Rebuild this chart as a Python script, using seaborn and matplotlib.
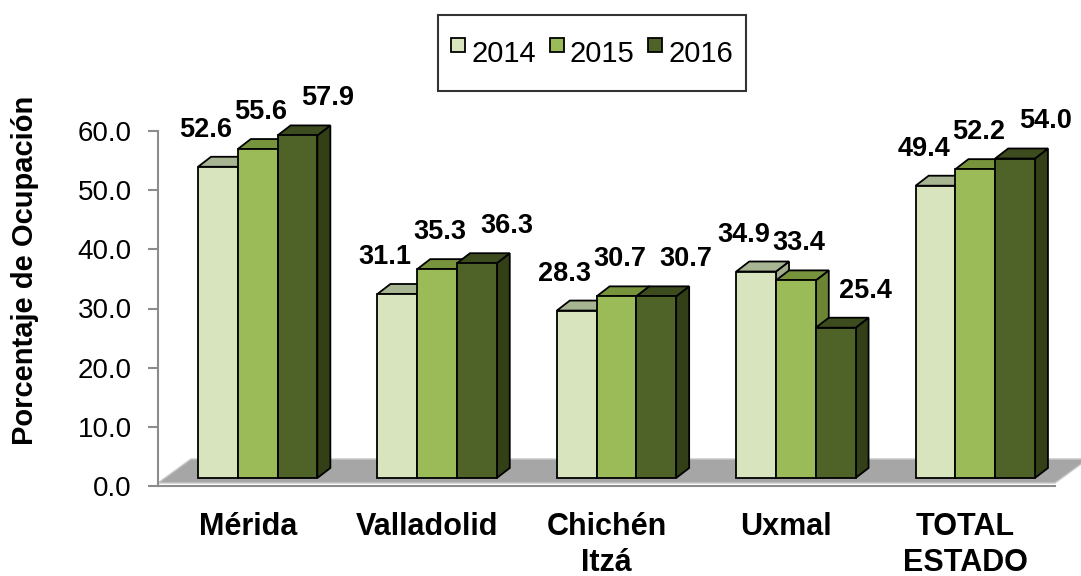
import matplotlib
matplotlib.use("Agg")
import matplotlib.pyplot as plt
from matplotlib.patches import Polygon
from matplotlib.lines import Line2D
import matplotlib.colors as mcolors
import pandas as pd
import seaborn as sns

# data
categories = ["Mérida", "Valladolid", "Chichén\nItzá", "Uxmal", "TOTAL\nESTADO"]
years = ["2014", "2015", "2016"]
occ_2014 = [52.6, 31.1, 28.3, 34.9, 49.4]
occ_2015 = [55.6, 35.3, 30.7, 33.4, 52.2]
occ_2016 = [57.9, 36.3, 30.7, 25.4, 54.0]

front_cols = ["#D7E4BD", "#9BBB59", "#4F6228"]
top_cols = ["#A7B592", "#77933C", "#3D4C1F"]
side_cols = ["#A0AC8A", "#6B8535", "#323F17"]

df = pd.DataFrame({
    "cat": categories * 3,
    "year": [y for y in years for _ in categories],
    "val": occ_2014 + occ_2015 + occ_2016,
})

sns.set_style("white")
plt.rcParams["font.family"] = ["Liberation Sans", "DejaVu Sans"]
plt.rcParams.update({"text.color": "black", "axes.labelcolor": "black",
                     "xtick.labelcolor": "black", "ytick.labelcolor": "black"})

fig = plt.figure(figsize=(10.81, 5.76), dpi=100)
ax = fig.add_axes([158 / 1081, 90 / 576, 897 / 1081, 355 / 576])

sns.barplot(data=df, x="cat", y="val", hue="year", palette=front_cols,
            width=0.665, edgecolor="black", linewidth=1.3, legend=False,
            saturation=1, ax=ax)

ax.set_xlim(-0.5, 4.5)
ax.set_ylim(0, 60)
ax.set_yticks(range(0, 61, 10))
ax.set_yticklabels([f"{v:.1f}" for v in range(0, 61, 10)], fontsize=20)
ax.set_xticks(range(len(categories)))
ax.set_xticklabels(categories, fontsize=22, fontweight="bold", linespacing=1.25)
ax.set_xticks([i - 0.5 for i in range(len(categories) + 1)], minor=True)
ax.tick_params(axis="x", which="major", length=0, pad=19)
ax.tick_params(axis="x", which="minor", length=7, width=1.5, color="#8C8C8C", direction="out")
ax.tick_params(axis="y", length=7, width=1.5, color="#8C8C8C", direction="out", pad=12, left=True)
for s in ["top", "right"]:
    ax.spines[s].set_visible(False)
for s in ["left", "bottom"]:
    ax.spines[s].set_color("#8C8C8C")
    ax.spines[s].set_linewidth(1.5)

ax.set_xlabel("")
ax.set_ylabel("Porcentaje de Ocupación", fontsize=21, fontweight="bold")
ax.yaxis.set_label_coords(-0.1325, 0.608)

# pixel -> data conversions for the fake 3D depth
fig.canvas.draw()
o = ax.transData.transform((0, 0))
px_x = 1.0 / (ax.transData.transform((1, 0))[0] - o[0])
px_y = 1.0 / (ax.transData.transform((0, 1))[1] - o[1])

bars = sorted(ax.patches, key=lambda p: p.get_x())

# grey floor
f_front = 3 * px_y
f_back = 27 * px_y
f_dx = 33 * px_x
floor = Polygon([(-0.5, f_front), (4.5, f_front), (4.5 + f_dx, f_back), (-0.5 + f_dx, f_back)],
                closed=True, facecolor="#A6A6A6", edgecolor="#C8C8C8", linewidth=1,
                zorder=0.5, clip_on=False)
ax.add_patch(floor)

shift_x = 10 * px_x
shift_y = 8 * px_y
dep_x = 13 * px_x
dep_y = 10 * px_y
lab_dx = [-12, 3, 30]
lab_dy = 37

for i, p in enumerate(bars):
    h = p.get_height()
    hexc = mcolors.to_hex(p.get_facecolor()).upper()
    k = front_cols.index(hexc) if hexc in front_cols else 0
    x0 = p.get_x() + shift_x
    w = p.get_width()
    y0 = shift_y
    y1 = shift_y + h
    p.set_x(x0)
    p.set_y(y0)
    z = 2 + i * 0.01
    p.set_zorder(z + 0.005)
    p.set_clip_on(False)
    side = Polygon([(x0 + w, y0), (x0 + w + dep_x, y0 + dep_y), (x0 + w + dep_x, y1 + dep_y), (x0 + w, y1)],
                   closed=True, facecolor=side_cols[k], edgecolor="black", linewidth=1.3,
                   zorder=z, clip_on=False)
    top = Polygon([(x0, y1), (x0 + dep_x, y1 + dep_y), (x0 + w + dep_x, y1 + dep_y), (x0 + w, y1)],
                  closed=True, facecolor=top_cols[k], edgecolor="black", linewidth=1.3,
                  zorder=z, clip_on=False)
    ax.add_patch(side)
    ax.add_patch(top)
    ax.text(x0 + w / 2 + lab_dx[k] * px_x, y1 + lab_dy * px_y, f"{h:.1f}",
            ha="center", va="center", fontsize=19.5, fontweight="bold", zorder=5)

handles = [Line2D([], [], marker="s", linestyle="none", markersize=9.5,
                  markerfacecolor=c, markeredgecolor="black", markeredgewidth=1.3)
           for c in front_cols]
leg = fig.legend(handles, years, loc="center", bbox_to_anchor=(592 / 1081, 1 - 53 / 576),
                 ncol=3, fontsize=21, frameon=True, fancybox=False, edgecolor="black",
                 handlelength=0.5, handleheight=2.3, handletextpad=0.2, columnspacing=0.45,
                 borderpad=0.45, borderaxespad=0)
leg.get_frame().set_linewidth(1.5)

fig.savefig("out.png", dpi=100)
